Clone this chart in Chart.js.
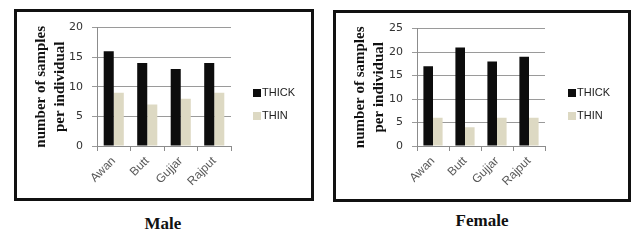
<!DOCTYPE html>
<html>
<head>
<meta charset="utf-8">
<script src="https://cdn.jsdelivr.net/npm/chart.js@4"></script>
<style>
  body { margin: 0; width: 632px; height: 241px; background: #fff; position: relative; overflow: hidden; }
  .box { position: absolute; border: 3px solid #111; background: #fff; }
  .box canvas { display: block; }
  .cap { position: absolute; font: bold 17px "Liberation Serif", "Times New Roman", serif; color: #111; text-align: center; width: 200px; }
</style>
</head>
<body>
<div class="box" id="boxMale" style="left:14px; top:9px; width:294px; height:186px;">
  <canvas id="chMale" width="294" height="186"></canvas>
</div>
<div class="box" id="boxFemale" style="left:333px; top:10px; width:292px; height:186px;">
  <canvas id="chFemale" width="292" height="186"></canvas>
</div>
<div class="cap" style="left:63px; top:214px;">Male</div>
<div class="cap" style="left:382px; top:211px;">Female</div>

<script>
// ── Dados ─────────────────────────────────────────────────────
const CASTAS = ["Awan", "Butt", "Gujjar", "Rajput"];
const SERIES = ["THICK", "THIN"];
const MALE_THICK = [16, 14, 13, 14];
const MALE_THIN = [9, 7, 8, 9];
const FEMALE_THICK = [17, 21, 18, 19];
const FEMALE_THIN = [6, 4, 6, 6];
const MALE_TICKS = { max: 20, step: 5 };
const FEMALE_TICKS = { max: 25, step: 5 };
const Y_TITLE = ["number of samples", "per individual"];

const COR_THICK = "#0d0d0d";
const COR_THIN = "#ddd9c3";

// Legenda desenhada manualmente (posição fixa no canvas)
const legendaFixa = {
  id: "legendaFixa",
  afterDraw(chart, args, opts) {
    const ctx = chart.ctx;
    ctx.save();
    ctx.font = "11px 'Liberation Sans', Arial, sans-serif";
    ctx.textBaseline = "middle";
    chart.data.datasets.forEach((ds, i) => {
      const y = opts.y + i * opts.gap;
      ctx.fillStyle = ds.backgroundColor;
      ctx.fillRect(opts.x, y - 4, 8, 8);
      ctx.fillStyle = "#222";
      ctx.fillText(ds.label, opts.x + 9, y);
    });
    ctx.restore();
  },
};

function buildChart(id, thick, thin, ticks, area, legenda) {
  const ctx = document.getElementById(id).getContext("2d");
  return new Chart(ctx, {
    type: "bar",
    data: {
      labels: CASTAS,
      datasets: [
        { label: SERIES[0], data: thick, backgroundColor: COR_THICK },
        { label: SERIES[1], data: thin, backgroundColor: COR_THIN },
      ],
    },
    plugins: [legendaFixa],
    options: {
      responsive: false,
      animation: false,
      devicePixelRatio: 1,
      layout: { padding: { top: area.top, right: area.right, left: area.left, bottom: 0 } },
      datasets: { bar: { categoryPercentage: 0.6, barPercentage: 1.0 } },
      plugins: {
        legend: { display: false },
        tooltip: { enabled: false },
        legendaFixa: legenda,
      },
      scales: {
        x: {
          afterFit: (s) => { s.height = area.xh; },
          grid: { display: true, drawOnChartArea: false, color: "#8c8c8c", tickLength: 5 },
          border: { color: "#8c8c8c" },
          ticks: {
            color: "#595959",
            font: { family: "'Liberation Sans', Arial, sans-serif", size: 12 },
            minRotation: 45,
            maxRotation: 45,
            padding: 3,
          },
        },
        y: {
          min: 0,
          max: ticks.max,
          afterFit: (s) => { s.width = area.yw; },
          grid: { color: "#9a9a9a", tickLength: 5 },
          border: { color: "#8c8c8c" },
          ticks: {
            stepSize: ticks.step,
            color: "#333",
            font: { family: "'DejaVu Sans', sans-serif", size: 11 },
            padding: 9,
          },
          title: {
            display: true,
            text: Y_TITLE,
            color: "#111",
            font: { family: "'Liberation Serif', 'Times New Roman', serif", size: 15, weight: "bold", lineHeight: 1.3 },
            padding: { top: 0, bottom: 2 },
          },
        },
      },
    },
  });
}

buildChart("chMale", MALE_THICK, MALE_THIN, MALE_TICKS,
  { top: 12, right: 80, left: 14, xh: 52, yw: 66 },
  { x: 236, y: 81, gap: 23 });
buildChart("chFemale", FEMALE_THICK, FEMALE_THIN, FEMALE_TICKS,
  { top: 12, right: 83, left: 14, xh: 53, yw: 67 },
  { x: 232, y: 80, gap: 23 });
</script>
</body>
</html>
